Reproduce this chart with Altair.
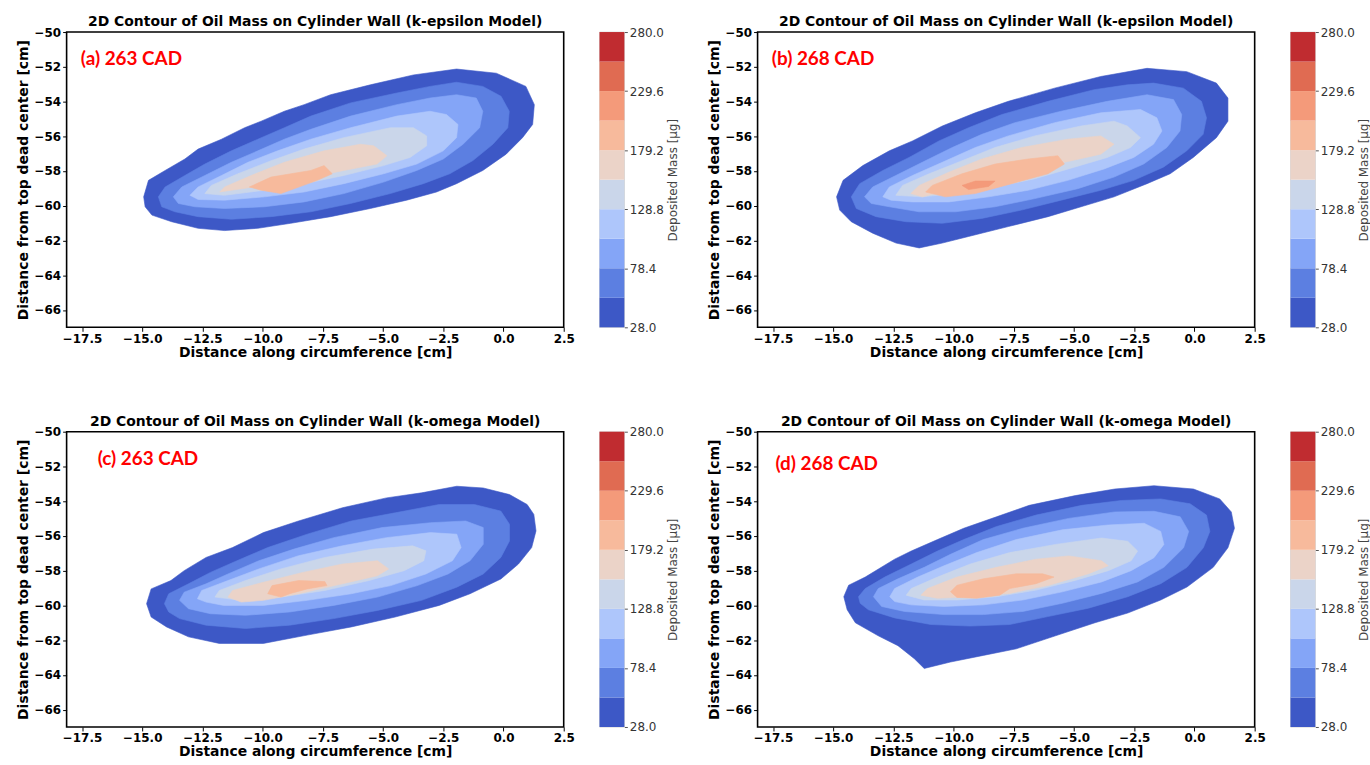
import altair as alt
import pandas as pd

# ---------------- data ----------------
LEVELS = [28.0, 53.2, 78.4, 103.6, 128.8, 154.0, 179.2, 204.4, 229.6, 254.8, 280.0]
BAND_COLORS = ["#3d58c6", "#5c7fe1", "#84a5f7", "#aec6fb", "#cad6ea",
               "#ebd3c8", "#f7ba9c", "#f49a7a", "#e06b52", "#c02c30"]
CBAR_TICKS = [28.0, 78.4, 128.8, 179.2, 229.6, 280.0]
X_TICKS = [-17.5, -15.0, -12.5, -10.0, -7.5, -5.0, -2.5, 0.0, 2.5]
Y_TICKS = [-66, -64, -62, -60, -58, -56, -54, -52, -50]
X_DOMAIN = [-18.14, 2.5]
Y_DOMAIN = [-67.0, -50.0]

TITLE_EPS = "2D Contour of Oil Mass on Cylinder Wall (k-epsilon Model)"
TITLE_OMG = "2D Contour of Oil Mass on Cylinder Wall (k-omega Model)"
LABELS = ["(a) 263 CAD", "(b) 268 CAD", "(c) 263 CAD", "(d) 268 CAD"]
LABEL_POS = [(-17.55, -51.55), (-17.55, -51.55), (-16.85, -51.6), (-17.4, -51.85)]

# panel (a) contour boundaries (x, y), outer level first
a1 = [(-14.94, -59.49), (-14.74, -58.54), (-14.05, -57.97), (-13.23, -57.31), (-12.68, -56.74), (-11.71, -56.17),
      (-10.75, -55.51), (-10.06, -55.13), (-9.10, -54.56), (-8.28, -54.18), (-7.18, -53.61), (-5.53, -53.04),
      (-3.74, -52.47), (-1.95, -52.13), (-0.30, -52.37), (0.93, -53.13), (1.28, -54.18), (1.21, -55.32),
      (0.79, -56.08), (0.11, -57.03), (-0.86, -57.97), (-1.95, -58.73), (-2.78, -59.21), (-4.02, -59.68),
      (-5.53, -60.16), (-7.18, -60.63), (-8.83, -61.01), (-10.20, -61.30), (-11.58, -61.43), (-12.68, -61.30),
      (-13.78, -60.92), (-14.60, -60.54), (-14.88, -60.06)]
a2 = [(-14.33, -59.49), (-14.05, -58.92), (-13.23, -58.26), (-12.40, -57.60), (-11.30, -56.84), (-10.20, -56.17),
      (-9.10, -55.51), (-8.00, -54.84), (-6.35, -54.08), (-4.43, -53.51), (-3.05, -53.13), (-1.95, -52.89),
      (-0.86, -53.13), (-0.10, -53.70), (0.24, -54.56), (0.18, -55.51), (-0.44, -56.46), (-1.27, -57.40),
      (-2.23, -58.16), (-3.33, -58.73), (-4.70, -59.30), (-6.35, -59.87), (-8.00, -60.35), (-9.65, -60.63),
      (-11.30, -60.78), (-12.68, -60.63), (-13.64, -60.35), (-14.19, -60.06)]
a3 = [(-13.71, -59.49), (-13.36, -58.92), (-12.40, -58.26), (-11.30, -57.50), (-10.20, -56.84), (-9.10, -56.17),
      (-8.00, -55.60), (-6.35, -54.84), (-4.43, -54.18), (-3.05, -53.80), (-1.95, -53.61), (-1.13, -53.80),
      (-0.86, -54.56), (-0.99, -55.51), (-1.68, -56.46), (-2.50, -57.31), (-3.60, -57.97), (-4.98, -58.64),
      (-6.63, -59.30), (-8.28, -59.78), (-9.93, -60.06), (-11.58, -60.16), (-12.81, -60.06), (-13.50, -59.87)]
a4 = [(-13.02, -59.40), (-12.68, -58.92), (-11.71, -58.26), (-10.61, -57.50), (-9.38, -56.84), (-8.00, -56.17),
      (-6.35, -55.51), (-4.43, -54.84), (-3.05, -54.56), (-2.37, -54.75), (-1.89, -55.32), (-1.95, -56.08),
      (-2.50, -56.84), (-3.60, -57.60), (-4.98, -58.16), (-6.63, -58.73), (-8.28, -59.21), (-9.93, -59.49),
      (-11.58, -59.68), (-12.68, -59.64)]
a5 = [(-12.40, -59.30), (-12.13, -58.83), (-11.03, -58.16), (-9.65, -57.41), (-8.28, -56.74), (-6.63, -56.08),
      (-4.70, -55.51), (-3.74, -55.51), (-3.19, -55.98), (-3.19, -56.55), (-3.88, -57.22), (-4.98, -57.69),
      (-6.63, -58.26), (-8.28, -58.73), (-9.93, -59.11), (-11.58, -59.40)]
a6 = [(-11.78, -59.21), (-11.58, -58.92), (-10.48, -58.26), (-9.10, -57.50), (-7.45, -56.84), (-5.94, -56.46),
      (-5.39, -56.55), (-4.84, -57.12), (-5.25, -57.60), (-6.63, -57.97), (-8.28, -58.45), (-9.93, -58.83),
      (-11.30, -59.11)]
a7 = [(-10.55, -58.92), (-9.65, -58.35), (-8.00, -57.97), (-7.45, -57.69), (-7.11, -58.16), (-7.73, -58.54),
      (-9.24, -59.30), (-10.06, -59.11)]

# panel (b)
b1 = [(-14.86, -59.49), (-14.59, -58.54), (-13.77, -57.69), (-12.67, -56.84), (-11.71, -56.27), (-10.47, -55.41),
      (-9.10, -54.65), (-7.73, -53.99), (-5.81, -53.23), (-3.89, -52.56), (-1.97, -52.09), (-0.32, -52.28),
      (0.91, -52.94), (1.39, -53.80), (1.39, -55.13), (0.91, -56.08), (-0.05, -57.22), (-1.01, -58.16),
      (-1.97, -58.73), (-3.34, -59.49), (-4.71, -60.06), (-6.08, -60.63), (-7.73, -61.20), (-9.38, -61.77),
      (-10.47, -62.15), (-11.43, -62.43), (-12.39, -62.15), (-13.36, -61.58), (-14.25, -60.92), (-14.73, -60.25)]
b2 = [(-14.25, -59.49), (-13.90, -58.73), (-12.94, -57.97), (-11.85, -57.22), (-10.61, -56.27), (-9.38, -55.51),
      (-8.00, -54.75), (-6.08, -53.99), (-4.17, -53.32), (-2.79, -53.04), (-1.70, -52.94), (-0.46, -53.23),
      (0.29, -53.99), (0.50, -54.94), (0.36, -55.89), (-0.32, -56.84), (-1.29, -57.78), (-2.52, -58.54),
      (-3.89, -59.11), (-5.53, -59.68), (-7.18, -60.25), (-8.83, -60.73), (-10.47, -61.01), (-11.98, -60.92),
      (-13.22, -60.63), (-14.04, -60.16)]
b3 = [(-13.70, -59.49), (-13.36, -58.92), (-12.40, -58.26), (-11.30, -57.50), (-10.06, -56.65), (-8.83, -55.89),
      (-7.46, -55.22), (-5.54, -54.56), (-3.62, -53.99), (-1.97, -53.61), (-0.87, -53.89), (-0.53, -54.75),
      (-0.60, -55.70), (-1.15, -56.65), (-2.11, -57.60), (-3.34, -58.35), (-4.85, -59.02), (-6.63, -59.59),
      (-8.28, -60.06), (-9.93, -60.35), (-11.43, -60.35), (-12.67, -60.06), (-13.42, -59.87)]
b4 = [(-12.94, -59.49), (-12.67, -58.92), (-11.71, -58.26), (-10.47, -57.50), (-9.10, -56.65), (-7.73, -55.98),
      (-5.81, -55.22), (-3.89, -54.65), (-2.24, -54.46), (-1.56, -54.94), (-1.35, -55.70), (-1.70, -56.46),
      (-2.52, -57.22), (-3.75, -57.88), (-5.26, -58.54), (-6.91, -59.11), (-8.55, -59.49), (-10.20, -59.78),
      (-11.71, -59.78), (-12.60, -59.68)]
b5 = [(-12.40, -59.40), (-12.12, -58.83), (-11.02, -58.16), (-9.65, -57.41), (-8.28, -56.65), (-6.63, -55.98),
      (-4.71, -55.41), (-3.34, -55.13), (-2.79, -55.41), (-2.24, -56.08), (-2.66, -56.65), (-3.62, -57.22),
      (-4.99, -57.78), (-6.63, -58.45), (-8.28, -58.92), (-9.93, -59.30), (-11.30, -59.49)]
b6 = [(-11.78, -59.30), (-11.43, -58.83), (-10.20, -58.07), (-8.83, -57.31), (-7.18, -56.65), (-5.26, -56.17),
      (-3.89, -55.98), (-3.34, -56.46), (-3.89, -57.03), (-5.40, -57.50), (-7.05, -58.16), (-8.69, -58.73),
      (-10.20, -59.11), (-11.30, -59.49)]
b7 = [(-11.16, -59.21), (-10.89, -58.83), (-9.65, -58.16), (-8.28, -57.60), (-6.91, -57.31), (-5.67, -57.12),
      (-5.40, -57.60), (-6.08, -58.16), (-7.59, -58.73), (-9.10, -59.30), (-10.34, -59.49)]
b8 = [(-9.65, -58.83), (-9.10, -58.58), (-8.28, -58.58), (-8.55, -58.89), (-9.38, -59.07)]

# panel (c)
c1 = [(-14.82, -59.90), (-14.63, -59.05), (-13.81, -58.57), (-13.26, -58.00), (-12.35, -57.24), (-11.25, -56.67),
      (-9.97, -55.81), (-8.51, -55.14), (-6.69, -54.38), (-4.86, -53.81), (-3.40, -53.52), (-1.94, -53.14),
      (-0.84, -53.24), (0.25, -53.62), (0.98, -54.19), (1.26, -54.76), (1.35, -55.71), (1.17, -56.67),
      (0.62, -57.62), (-0.11, -58.48), (-1.39, -59.33), (-2.67, -60.00), (-4.50, -60.67), (-6.32, -61.24),
      (-8.15, -61.71), (-9.97, -62.19), (-11.80, -62.19), (-13.08, -61.81), (-13.99, -61.24), (-14.63, -60.67)]
c2 = [(-14.08, -59.90), (-13.90, -59.33), (-13.08, -58.76), (-12.17, -58.10), (-11.07, -57.43), (-9.79, -56.67),
      (-8.15, -55.90), (-6.32, -55.14), (-4.50, -54.67), (-2.67, -54.19), (-1.21, -54.19), (-0.11, -54.57),
      (0.25, -55.33), (0.25, -56.29), (-0.11, -57.24), (-0.84, -58.19), (-1.94, -58.95), (-3.40, -59.71),
      (-5.23, -60.29), (-7.05, -60.76), (-8.88, -61.14), (-10.71, -61.33), (-12.35, -61.14), (-13.45, -60.76),
      (-13.90, -60.38)]
c3 = [(-13.45, -59.71), (-13.26, -59.24), (-12.35, -58.76), (-11.44, -58.19), (-10.16, -57.43), (-8.70, -56.76),
      (-7.05, -56.10), (-5.04, -55.52), (-3.03, -55.24), (-1.57, -55.14), (-0.84, -55.52), (-0.84, -56.48),
      (-1.39, -57.43), (-2.30, -58.19), (-3.58, -58.86), (-5.23, -59.52), (-7.05, -60.00), (-8.88, -60.38),
      (-10.71, -60.57), (-12.17, -60.48), (-13.08, -60.19)]
c4 = [(-12.71, -59.62), (-12.53, -59.14), (-11.44, -58.57), (-10.16, -57.90), (-8.51, -57.14), (-6.69, -56.57),
      (-4.86, -56.10), (-3.03, -55.81), (-1.94, -55.90), (-1.76, -56.67), (-2.12, -57.43), (-3.22, -58.19),
      (-4.68, -58.86), (-6.32, -59.33), (-8.15, -59.71), (-9.97, -60.00), (-11.62, -60.00), (-12.35, -59.81)]
c5 = [(-11.98, -59.52), (-11.80, -59.14), (-10.71, -58.57), (-9.24, -57.90), (-7.42, -57.24), (-5.41, -56.76),
      (-3.77, -56.57), (-3.22, -56.86), (-3.31, -57.43), (-4.13, -58.00), (-5.59, -58.57), (-7.42, -59.14),
      (-9.24, -59.52), (-10.89, -59.71)]
c6 = [(-11.44, -59.52), (-11.25, -59.14), (-9.97, -58.67), (-8.33, -58.10), (-6.69, -57.62), (-5.23, -57.43),
      (-4.77, -57.90), (-5.23, -58.29), (-6.69, -58.76), (-8.51, -59.33), (-9.97, -59.71), (-10.89, -59.81)]
c7 = [(-9.79, -59.33), (-9.61, -58.86), (-8.51, -58.57), (-7.42, -58.63), (-7.33, -58.86), (-8.15, -59.05),
      (-8.88, -59.33), (-9.24, -59.52)]

# panel (d)
d1 = [(-14.56, -59.50), (-14.36, -58.84), (-13.67, -58.37), (-12.45, -57.34), (-11.76, -56.87), (-10.67, -56.21),
      (-9.58, -55.56), (-8.22, -54.90), (-6.86, -54.24), (-4.95, -53.68), (-3.31, -53.30), (-1.68, -53.11),
      (-0.04, -53.30), (1.05, -53.87), (1.53, -54.62), (1.66, -55.56), (1.39, -56.68), (0.78, -57.81),
      (-0.31, -58.94), (-1.40, -59.69), (-2.77, -60.44), (-4.13, -61.00), (-5.77, -61.75), (-7.40, -62.50),
      (-8.77, -62.88), (-10.13, -63.26), (-11.22, -63.63), (-11.63, -63.07), (-12.31, -62.32), (-13.13, -61.75),
      (-14.08, -61.00), (-14.42, -60.25)]
d2 = [(-13.95, -59.50), (-13.67, -59.03), (-12.86, -58.37), (-11.76, -57.62), (-10.67, -56.87), (-9.58, -56.21),
      (-8.22, -55.46), (-6.58, -54.80), (-4.68, -54.24), (-3.04, -53.96), (-1.40, -53.87), (-0.18, -54.15),
      (0.50, -54.80), (0.64, -55.74), (0.37, -56.68), (-0.31, -57.81), (-1.40, -58.75), (-2.77, -59.50),
      (-4.40, -60.16), (-6.04, -60.63), (-7.67, -61.10), (-9.31, -61.19), (-10.95, -61.10), (-12.45, -60.72),
      (-13.54, -60.25), (-13.88, -59.88)]
d3 = [(-13.33, -59.50), (-13.13, -59.03), (-12.31, -58.47), (-11.22, -57.81), (-10.13, -57.06), (-8.77, -56.21),
      (-7.13, -55.56), (-5.22, -54.99), (-3.31, -54.62), (-1.68, -54.58), (-0.59, -54.90), (-0.24, -55.74),
      (-0.45, -56.68), (-1.27, -57.81), (-2.36, -58.65), (-3.86, -59.31), (-5.49, -59.88), (-7.13, -60.35),
      (-8.77, -60.53), (-10.40, -60.53), (-12.04, -60.35), (-12.99, -60.06)]
d4 = [(-12.65, -59.50), (-12.45, -59.03), (-11.49, -58.37), (-10.40, -57.72), (-9.04, -56.96), (-7.40, -56.21),
      (-5.49, -55.65), (-3.58, -55.37), (-2.09, -55.27), (-1.40, -55.74), (-1.27, -56.49), (-1.68, -57.25),
      (-2.63, -58.00), (-3.86, -58.65), (-5.49, -59.22), (-7.13, -59.69), (-8.77, -59.97), (-10.40, -60.06),
      (-11.76, -59.97), (-12.45, -59.78)]
d5 = [(-11.97, -59.41), (-11.76, -59.03), (-10.67, -58.37), (-9.31, -57.62), (-7.67, -56.96), (-5.77, -56.49),
      (-3.86, -56.12), (-2.77, -56.31), (-2.36, -56.87), (-2.63, -57.43), (-3.58, -58.00), (-4.95, -58.56),
      (-6.58, -59.12), (-8.22, -59.50), (-9.86, -59.69), (-11.22, -59.69)]
d6 = [(-11.36, -59.41), (-11.08, -59.03), (-9.86, -58.37), (-8.22, -57.81), (-6.58, -57.34), (-5.22, -57.15),
      (-3.86, -57.43), (-3.58, -57.72), (-4.40, -58.18), (-6.04, -58.84), (-7.67, -59.31), (-9.31, -59.50),
      (-10.67, -59.59)]
d7 = [(-10.13, -59.22), (-9.86, -58.84), (-8.77, -58.47), (-7.40, -58.18), (-6.31, -58.18), (-5.83, -58.37),
      (-6.58, -58.75), (-7.67, -59.03), (-8.08, -59.41), (-9.04, -59.59), (-9.86, -59.54)]

PANELS = [
    [a1, a2, a3, a4, a5, a6, a7],
    [b1, b2, b3, b4, b5, b6, b7, b8],
    [c1, c2, c3, c4, c5, c6, c7],
    [d1, d2, d3, d4, d5, d6, d7],
]
TITLES = [TITLE_EPS, TITLE_EPS, TITLE_OMG, TITLE_OMG]

# ---------------- chart construction ----------------
PW, PH = 500, 297
FONT = "DejaVu Sans"
fill_scale = alt.Scale(domain=list(range(1, 11)), range=BAND_COLORS)
x_scale = alt.Scale(domain=X_DOMAIN, nice=False, zero=False)
y_scale = alt.Scale(domain=Y_DOMAIN, nice=False, zero=False)

x_axis = alt.Axis(values=X_TICKS, format=".1f", title="Distance along circumference [cm]",
                  labelFont=FONT, labelFontWeight="bold", labelFontSize=12, labelColor="black",
                  titleFont=FONT, titleFontWeight="bold", titleFontSize=14, titleColor="black",
                  tickColor="black", tickSize=4, tickWidth=1, domain=False, grid=False,
                  labelFlush=False, labelOverlap=False, labelPadding=2, titlePadding=1)
y_axis = alt.Axis(values=Y_TICKS, format="d", title="Distance from top dead center [cm]",
                  labelFont=FONT, labelFontWeight="bold", labelFontSize=12, labelColor="black",
                  titleFont=FONT, titleFontWeight="bold", titleFontSize=14, titleColor="black",
                  tickColor="black", tickSize=4, tickWidth=1, domain=False, grid=False,
                  labelFlush=False, labelOverlap=False, labelPadding=2, titlePadding=4)


def contour_panel(levels, title, label, label_pos):
    rows = []
    for k, pts in enumerate(levels, start=1):
        for i, (x, y) in enumerate(pts):
            rows.append({"band": k, "i": i, "x": x, "y": y})
    df = pd.DataFrame(rows)
    layers = []
    for k in range(1, len(levels) + 1):
        layers.append(
            alt.Chart(df).transform_filter(alt.datum.band == k)
            .mark_line(interpolate="linear-closed", strokeWidth=0.6)
            .encode(
                x=alt.X("x:Q", scale=x_scale, axis=x_axis),
                y=alt.Y("y:Q", scale=y_scale, axis=y_axis),
                order=alt.Order("i:Q"),
                fill=alt.Fill("band:O", scale=fill_scale, legend=None),
                stroke=alt.Stroke("band:O", scale=fill_scale, legend=None),
            )
        )
    lab = pd.DataFrame({"x": [label_pos[0]], "y": [label_pos[1]], "t": [label]})
    layers.append(
        alt.Chart(lab).mark_text(align="left", baseline="middle", font="Lato", fontSize=19,
                                 fontWeight="bold", color="#ff0000")
        .encode(x=alt.X("x:Q", scale=x_scale, axis=x_axis),
                y=alt.Y("y:Q", scale=y_scale, axis=y_axis),
                text="t:N")
    )
    return alt.layer(*layers).properties(
        width=PW, height=PH,
        title=alt.TitleParams(title, font=FONT, fontSize=14, fontWeight="bold", color="black",
                              anchor="middle", frame="group", offset=-3),
        view=alt.ViewBackground(stroke="black", strokeWidth=1.6),
    )


cb_df = pd.DataFrame({"band": list(range(1, 11)), "lo": LEVELS[:-1], "hi": LEVELS[1:]})


def colorbar():
    return alt.Chart(cb_df).mark_rect().encode(
        y=alt.Y("lo:Q", scale=alt.Scale(domain=[LEVELS[0], LEVELS[-1]], nice=False, zero=False),
                axis=alt.Axis(orient="right", values=CBAR_TICKS, format=".1f", title="Deposited Mass [μg]",
                              labelFont=FONT, labelFontSize=12, labelColor="#333333",
                              titleFont=FONT, titleFontSize=12, titleFontWeight="normal", titleColor="#444444",
                              titleAngle=270, titleBaseline="top", titlePadding=4,
                              tickColor="#555555", tickSize=3,
                              domain=False, grid=False, labelPadding=2, labelFlush=False, labelOverlap=False)),
        y2="hi:Q",
        fill=alt.Fill("band:O", scale=fill_scale, legend=None),
    ).properties(width=25, height=PH, view=alt.ViewBackground(stroke="#bbbbbb", strokeWidth=0.6))


panels = [contour_panel(PANELS[i], TITLES[i], LABELS[i], LABEL_POS[i]) for i in range(4)]

row1 = alt.hconcat(alt.hconcat(panels[0], colorbar(), spacing=23),
                   alt.hconcat(panels[1], colorbar(), spacing=23), spacing=27)
row2 = alt.hconcat(alt.hconcat(panels[2], colorbar(), spacing=23),
                   alt.hconcat(panels[3], colorbar(), spacing=23), spacing=27)

chart = alt.vconcat(row1, row2, spacing=54).properties(
    padding={"left": 15, "top": 12, "right": 0, "bottom": 0},
    background="white",
).configure_concat(spacing=0)

chart.save("out.html", embed_options={"renderer": "svg", "actions": False})
